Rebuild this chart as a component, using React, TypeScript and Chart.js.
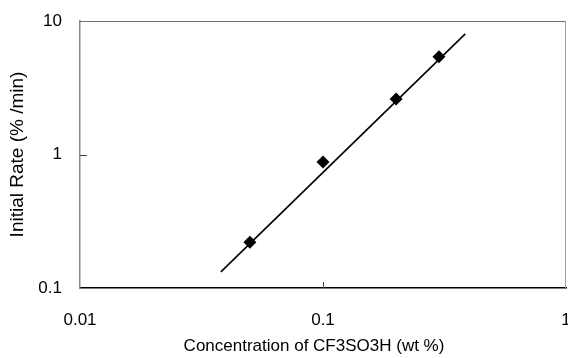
import React, { useEffect, useRef } from "react";
import { Chart, registerables } from "chart.js";

Chart.register(...registerables);

// Measured data points (concentration wt %, initial rate %/min)
const concentration = [0.05, 0.1, 0.2, 0.3];
const initialRate = [0.22, 0.88, 2.6, 5.4];

// Fitted line end points
const fitX = [0.038, 0.385];
const fitY = [0.132, 8.0];

const xTicks = [0.01, 0.1, 1];
const yTicks = [0.1, 1, 10];

const xTitle = "Concentration of CF3SO3H (wt %)";
const yTitle = "Initial Rate (% /min)";

const FONT = "'Liberation Sans', Arial, sans-serif";

const zeroPadding = () => ({ left: 0, top: 0, right: 0, bottom: 0 });

const framePlugin = {
  id: "frame",
  afterDraw(chart: any) {
    const { ctx, chartArea: a, scales } = chart;
    ctx.save();
    // top and right frame lines
    ctx.lineWidth = 1;
    ctx.strokeStyle = "#6e6e6e";
    ctx.beginPath();
    ctx.moveTo(a.left, a.top + 0.5);
    ctx.lineTo(a.right, a.top + 0.5);
    ctx.stroke();
    ctx.strokeStyle = "#a0a0a0";
    ctx.beginPath();
    ctx.moveTo(a.right - 0.5, a.top);
    ctx.lineTo(a.right - 0.5, a.bottom);
    ctx.stroke();
    // inner tick marks
    ctx.strokeStyle = "#444";
    ctx.lineWidth = 1;
    for (const v of yTicks) {
      const y = Math.round(scales.y.getPixelForValue(v)) + 0.5;
      if (y > a.top + 2 && y < a.bottom - 2) {
        ctx.beginPath();
        ctx.moveTo(a.left, y);
        ctx.lineTo(a.left + 7, y);
        ctx.stroke();
      }
    }
    for (const v of xTicks) {
      const x = Math.round(scales.x.getPixelForValue(v)) + 0.5;
      if (x > a.left + 2 && x < a.right - 2) {
        ctx.beginPath();
        ctx.moveTo(x, a.bottom);
        ctx.lineTo(x, a.bottom - 6);
        ctx.stroke();
      }
    }
    // x-axis title
    ctx.fillStyle = "#000";
    ctx.font = `17px ${FONT}`;
    ctx.textAlign = "center";
    ctx.textBaseline = "middle";
    ctx.fillText(xTitle, 314, 346);
    ctx.restore();
  },
};

export default function App() {
  const ref = useRef<HTMLCanvasElement>(null);

  useEffect(() => {
    document.body.style.margin = "0";
    const canvas = ref.current!;
    const chart = new Chart(canvas, {
      type: "scatter",
      data: {
        datasets: [
          {
            label: "fit",
            data: fitX.map((x, i) => ({ x, y: fitY[i] })),
            showLine: true,
            borderColor: "#000",
            borderWidth: 1.6,
            pointRadius: 0,
            order: 2,
          },
          {
            label: "data",
            data: concentration.map((x, i) => ({ x, y: initialRate[i] })),
            pointStyle: "rectRot",
            pointRadius: 6.5,
            backgroundColor: "#000",
            borderColor: "#000",
            borderWidth: 0,
            order: 1,
          },
        ],
      },
      plugins: [framePlugin],
      options: {
        animation: false,
        responsive: false,
        devicePixelRatio: 1,
        layout: {
          autoPadding: false,
          padding: { top: 21, right: 2, left: 0, bottom: 0 },
        },
        plugins: {
          legend: { display: false },
          tooltip: { enabled: false },
        },
        scales: {
          x: {
            type: "logarithmic",
            min: 0.01,
            max: 1,
            afterBuildTicks: (s: any) => {
              s.ticks = xTicks.map((v) => ({ value: v }));
            },
            afterFit: (s: any) => {
              s.height = 70;
              s.paddingLeft = 0;
              s.paddingRight = 0;
              s.getPadding = zeroPadding;
            },
            ticks: {
              callback: (v: any) => String(v),
              color: "#000",
              font: { family: FONT, size: 17 },
              padding: 22,
              maxRotation: 0,
              autoSkip: false,
            },
            grid: { display: true, drawOnChartArea: false, drawTicks: false },
            border: { color: "#000", width: 1.5 },
            title: { display: false },
          },
          y: {
            type: "logarithmic",
            min: 0.1,
            max: 10,
            afterBuildTicks: (s: any) => {
              s.ticks = yTicks.map((v) => ({ value: v }));
            },
            afterFit: (s: any) => {
              s.width = 80;
              s.paddingTop = 0;
              s.paddingBottom = 0;
              s.getPadding = zeroPadding;
            },
            ticks: {
              callback: (v: any) => String(v),
              color: "#000",
              font: { family: FONT, size: 17 },
              padding: 18,
              autoSkip: false,
            },
            grid: { display: true, drawOnChartArea: false, drawTicks: false },
            border: { color: "#8a8a8a", width: 1.5 },
            title: {
              display: true,
              text: yTitle,
              color: "#000",
              font: { family: FONT, size: 19 },
              padding: { top: 6, bottom: 0 },
            },
          },
        },
      },
    });
    return () => chart.destroy();
  }, []);

  return (
    <div style={{ width: 568, height: 358, background: "#fff" }}>
      <canvas ref={ref} width={568} height={358} />
    </div>
  );
}
